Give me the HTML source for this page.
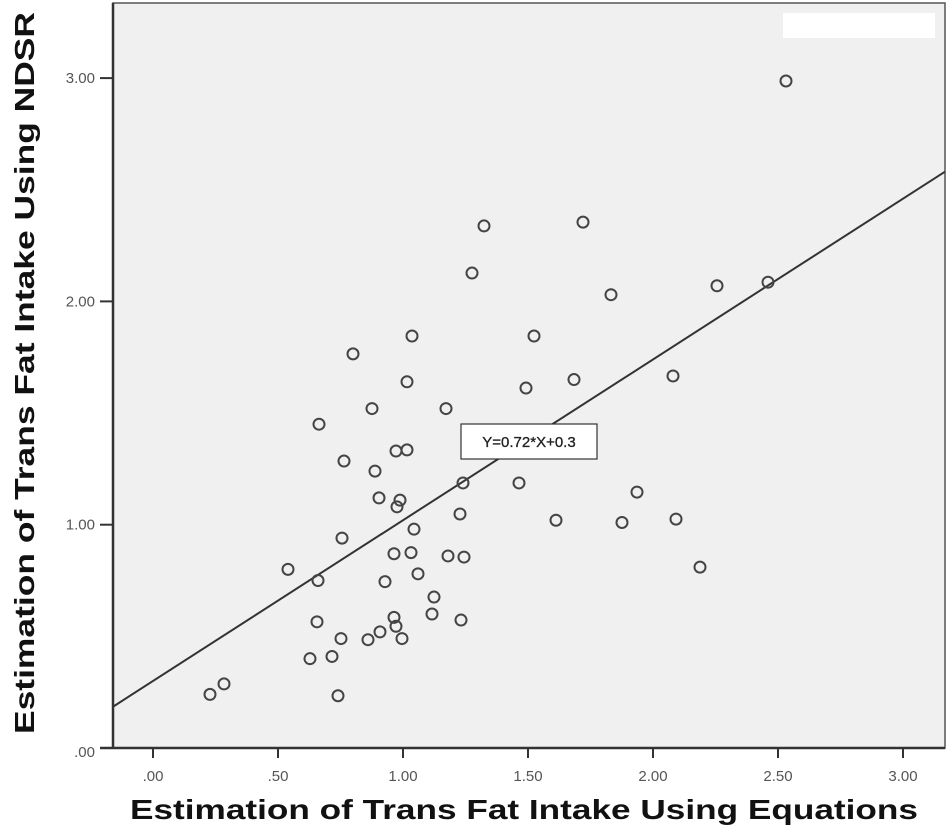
<!DOCTYPE html>
<html><head><meta charset="utf-8"><style>html,body{margin:0;padding:0;background:#fff;}svg{display:block;}</style></head>
<body>
<svg id="chart" width="950" height="837" xmlns="http://www.w3.org/2000/svg" font-family="Liberation Sans, sans-serif">
<rect x="113" y="3" width="832" height="745" fill="#f0f0f0" stroke="#555" stroke-width="1.5"/>
<rect x="783" y="13" width="152" height="25" fill="#fff"/>
<line x1="113" y1="3" x2="113" y2="749" stroke="#333" stroke-width="2.5"/>
<line x1="100" y1="748" x2="945" y2="748" stroke="#333" stroke-width="2.5"/>
<g id="ticks"></g>
<g id="fit"></g>
<g id="points"></g>
<g>
<rect x="461" y="424" width="136" height="35" fill="#fff" stroke="#333" stroke-width="1.2"/>
<text x="529" y="447" text-anchor="middle" font-size="15" fill="#222" stroke="#222" stroke-width="0.3">Y=0.72*X+0.3</text>
</g>
<text x="524" y="819" text-anchor="middle" font-size="28" font-weight="bold" fill="#111" textLength="788" lengthAdjust="spacingAndGlyphs">Estimation of Trans Fat Intake Using Equations</text>
<text transform="translate(34,373) rotate(-90)" text-anchor="middle" font-size="28" font-weight="bold" fill="#111" textLength="722" lengthAdjust="spacingAndGlyphs">Estimation of Trans Fat Intake Using NDSR</text>
<script>
const xVals=[0.228,0.284,0.54,0.66,0.664,0.764,0.80,0.756,0.628,0.656,0.716,0.752,0.74,0.86,0.908,0.964,0.972,0.996,0.928,0.964,1.032,1.06,1.044,0.976,0.988,0.904,0.888,0.876,0.972,1.016,1.016,1.036,1.116,1.124,1.18,1.232,1.244,1.228,1.24,1.172,1.276,1.324,1.464,1.492,1.524,1.612,1.684,1.72,1.832,1.876,1.936,2.08,2.092,2.188,2.256,2.46,2.532];
const yVals=[0.24,0.287,0.80,0.75,1.45,1.285,1.765,0.94,0.40,0.565,0.41,0.49,0.234,0.485,0.52,0.585,0.545,0.49,0.745,0.87,0.875,0.78,0.98,1.08,1.11,1.12,1.24,1.52,1.33,1.335,1.64,1.845,0.60,0.676,0.86,0.573,0.855,1.048,1.187,1.52,2.127,2.338,1.187,1.612,1.845,1.02,1.65,2.355,2.03,1.01,1.146,1.666,1.025,0.81,2.07,2.086,2.987];
const xTicks=[0,0.5,1,1.5,2,2.5,3];
const xTickLabels=[".00",".50","1.00","1.50","2.00","2.50","3.00"];
const yTicks=[0,1,2,3];
const yTickLabels=[".00","1.00","2.00","3.00"];
const fitSlope=0.72, fitIntercept=0.3;
const NS='http://www.w3.org/2000/svg';
const xs=v=>153+250*v, ys=v=>748-223.3*v;
const xMin=-0.16, xMax=3.168;
function mk(t,a,p){const e=document.createElementNS(NS,t);for(const k in a)e.setAttribute(k,a[k]);p.appendChild(e);return e;}
const tk=document.getElementById('ticks');
xTicks.forEach((v,i)=>{
  const l=mk('line',{x1:xs(v),x2:xs(v),y1:748,y2:758,stroke:'#333','stroke-width':2},tk);
  
  
  const t=mk('text',{x:xs(v),y:781,'text-anchor':'middle','font-size':15,fill:'#555'},tk);
  
  
  t.textContent=xTickLabels[i];
});
yTicks.forEach((v,i)=>{
  const l=mk('line',{x1:100,x2:113,y1:ys(v),y2:ys(v),stroke:'#333','stroke-width':2},tk);
  
  
  const t=mk('text',{x:95,y:ys(v)+(v===0?9:5),'text-anchor':'end','font-size':15,fill:'#555'},tk);
  
  
  t.textContent=yTickLabels[i];
});
const fl=mk('line',{x1:xs(xMin),y1:ys(fitSlope*xMin+fitIntercept),x2:xs(xMax),y2:ys(fitSlope*xMax+fitIntercept),stroke:'#333','stroke-width':2},document.getElementById('fit'));


const pg=document.getElementById('points');
xVals.forEach((x,i)=>{
  const c=mk('circle',{cx:xs(x),cy:ys(yVals[i]),r:5.5,fill:'none',stroke:'#444','stroke-width':2},pg);
  
  
});
</script>
</svg>
</body></html>
